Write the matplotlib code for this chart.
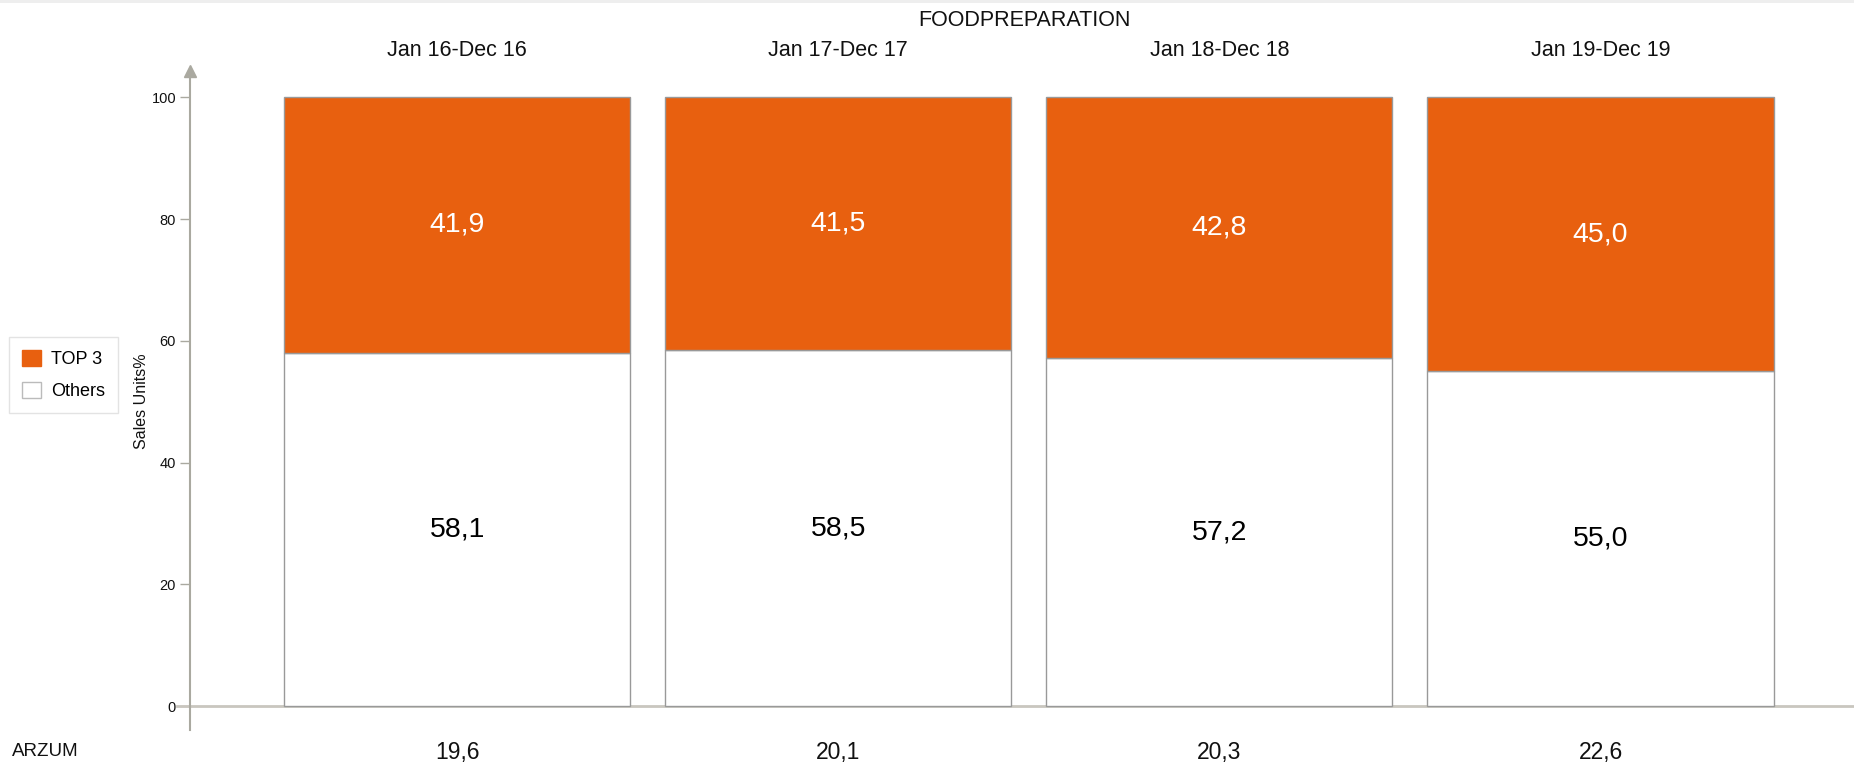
import matplotlib
matplotlib.use("Agg")
import matplotlib.pyplot as plt
from matplotlib.patches import Patch, Rectangle

plt.rcParams['font.family'] = ['Liberation Sans', 'DejaVu Sans']

title = "FOODPREPARATION"
periods = ["Jan 16-Dec 16", "Jan 17-Dec 17", "Jan 18-Dec 18", "Jan 19-Dec 19"]
others = [58.1, 58.5, 57.2, 55.0]
top3 = [41.9, 41.5, 42.8, 45.0]
arzum = [19.6, 20.1, 20.3, 22.6]
row_label = "ARZUM"
ylabel = "Sales Units%"
legend_labels = ["TOP 3", "Others"]

ORANGE = "#E8600F"
AXCOL = "#AAA9A0"
EDGE = "#999999"

W, H = 1854, 765
fig = plt.figure(figsize=(W / 100, H / 100), dpi=100)
fig.patches.append(Rectangle((0, 1 - 3 / H), 1, 3 / H, transform=fig.transFigure,
                             facecolor="#EEEEEE", edgecolor="none"))

ax_left, ax_right = 190, 1854
ax_bot, ax_top = 730, 70.6
ax = fig.add_axes([ax_left / W, (H - ax_bot) / H, (ax_right - ax_left) / W, (ax_bot - ax_top) / H])

x = list(range(len(periods)))
bw = 0.908
ax.bar(x, others, width=bw, color="white", edgecolor=EDGE, linewidth=1, zorder=3)
ax.bar(x, top3, width=bw, bottom=others, color=ORANGE, edgecolor=EDGE, linewidth=1, zorder=3)

ax.set_xlim(-0.7008, 3.665)
ax.set_ylim(-3.9, 104.4)

for xi, o, t in zip(x, others, top3):
    ax.text(xi, o / 2, f"{o:.1f}".replace(".", ","), ha="center", va="center",
            fontsize=20.5, color="black", zorder=4)
    ax.text(xi, o + t / 2, f"{t:.1f}".replace(".", ","), ha="center", va="center",
            fontsize=20.5, color="white", zorder=4)

# period labels above
for xi, p in zip(x, periods):
    ax.text(xi, 1 - (51 - ax_top) / (ax_bot - ax_top) + 0.0, p, transform=ax.get_xaxis_transform(),
            ha="center", va="center", fontsize=15.5, color="#111111")
fig.text(1024 / W, 1 - 21 / H, title, ha="center", va="center", fontsize=15.5, color="#111111")

# bottom row values
for xi, v in zip(x, arzum):
    ax.text(xi, -(752 - ax_bot) / (ax_bot - ax_top), f"{v:.1f}".replace(".", ","),
            transform=ax.get_xaxis_transform(), ha="center", va="center", fontsize=16.5,
            color="#111111")
fig.text(12 / W, 1 - 752 / H, row_label, ha="left", va="center", fontsize=13.5, color="#111111")

# axes styling
for s in ["top", "right", "bottom"]:
    ax.spines[s].set_visible(False)
ax.spines["left"].set_color(AXCOL)
ax.spines["left"].set_linewidth(1.5)
ax.set_xticks([])
ax.set_yticks([0, 20, 40, 60, 80, 100])
ax.tick_params(axis="y", length=7, width=1, color=AXCOL, labelsize=10.5, pad=3, labelcolor="#111111")
ax.plot([0], [1], marker="^", markersize=9, color=AXCOL, transform=ax.transAxes, clip_on=False, zorder=5)
# baseline
ax.axhline(0, xmin=-13 / (ax_right - ax_left), xmax=1, color="#C9C6BF", linewidth=2, clip_on=False, zorder=2)

fig.text(141.7 / W, 1 - 401 / H, ylabel, rotation=90, ha="center", va="center", fontsize=11.5,
         color="#111111")

handles = [Patch(facecolor=ORANGE, edgecolor=ORANGE), Patch(facecolor="white", edgecolor="#BBBBBB")]
leg = fig.legend(handles, legend_labels, loc="upper left", bbox_to_anchor=(9 / W, 1 - 337 / H),
                 fontsize=13, frameon=True, fancybox=False, borderpad=0.7, labelspacing=0.75,
                 handlelength=1.05, handleheight=1.05, handletextpad=0.6, borderaxespad=0)
leg.get_frame().set_edgecolor("#DDDDDD")
leg.get_frame().set_linewidth(1)

fig.savefig("out.png", dpi=100, facecolor="white")
